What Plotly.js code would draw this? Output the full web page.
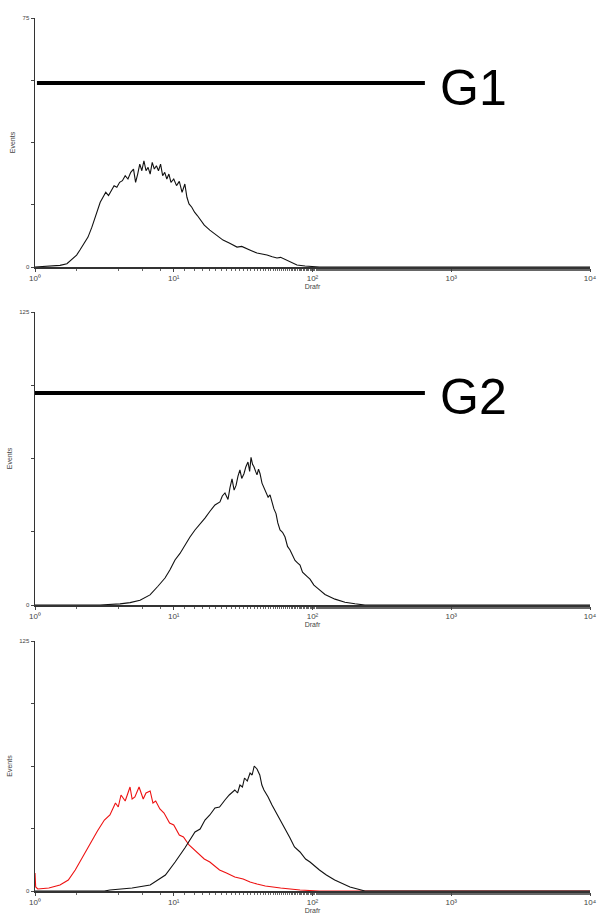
<!DOCTYPE html>
<html>
<head>
<meta charset="utf-8">
<script src="https://cdn.plot.ly/plotly-3.0.1.min.js"></script>
<style>html,body{margin:0;padding:0;background:#fff;}#chart{width:601px;height:918px;}</style>
</head>
<body>
<div id="chart"></div>
<script>
// ---- Data (log10 fluorescence positions, event counts) ----
const p1LogFL = [0,0.108,0.18,0.23,0.267,0.30,0.324,0.35,0.382,0.41,0.43,0.45,0.47,0.49,0.51,0.53,0.55,0.57,0.59,0.61,0.63,0.65,0.67,0.69,0.71,0.725,0.74,0.755,0.77,0.785,0.80,0.815,0.83,0.845,0.86,0.875,0.89,0.905,0.92,0.935,0.95,0.965,0.98,1.0,1.02,1.04,1.06,1.08,1.095,1.11,1.13,1.15,1.17,1.19,1.22,1.26,1.30,1.355,1.40,1.456,1.49,1.528,1.56,1.6,1.64,1.672,1.71,1.744,1.77,1.80,1.838,1.888,1.946,2.05,4];
const p1Counts = [0,0.3,0.5,1,2.5,3.6,5.1,6.8,9,12,14.5,17.5,19.5,21,22.5,21.5,23,24.5,24,25.5,26,27.5,26.5,28.5,29.5,25.5,28,31,29,32,29,30,28,31.5,29.5,30.5,29,31,27.5,28.5,26.5,28,25.5,26.5,24.5,25.8,22.5,25,21,19,18,16.5,15.5,14.2,12.6,11.1,9.8,8.1,7.2,6,6.2,5.4,4.9,4.2,3.9,3.6,3.1,2.7,2.9,2.3,1.5,0.6,0.3,0,0];

const p2LogFL = [0,0.468,0.613,0.685,0.757,0.829,0.886,0.937,0.973,1.009,1.045,1.081,1.117,1.153,1.189,1.225,1.261,1.297,1.333,1.35,1.369,1.391,1.405,1.42,1.435,1.449,1.463,1.477,1.49,1.506,1.52,1.535,1.547,1.557,1.568,1.578,1.59,1.6,1.611,1.622,1.636,1.65,1.665,1.68,1.694,1.708,1.722,1.737,1.75,1.766,1.784,1.802,1.82,1.838,1.856,1.874,1.892,1.91,1.928,1.946,1.964,1.982,2.01,2.04,2.09,2.162,2.234,2.306,2.378,4];
const p2Counts = [0,0,0.5,1,2,4.3,8,11.5,15,19.2,22,25.6,29,32,34.5,37.1,40,42.7,44,46.5,47.8,45,50,53.8,49,51,55,57.6,54,56,59,61,57,63,60,59,57,55.5,58,56,52,50,48,46,47,44,41,39,35,32,31,29,25,23.5,21,19,18,17,14,12.8,12,11,8.5,7,4.5,2.5,1.2,0.5,0,0];

const p3RedLogFL = [0,0.005,0.02,0.1,0.18,0.24,0.29,0.35,0.40,0.45,0.5,0.54,0.58,0.60,0.62,0.65,0.67,0.685,0.70,0.72,0.75,0.78,0.80,0.83,0.85,0.87,0.90,0.93,0.97,1.0,1.04,1.07,1.11,1.15,1.19,1.22,1.26,1.33,1.38,1.44,1.50,1.55,1.60,1.66,1.77,1.91,2.05,4];
const p3RedCounts = [9,2,1,1.5,3,5.5,10.5,18,24.5,30,35.5,38,44,42,48,45,49,52,46,47,52,46,49,50,44,45,41,39,34,33,28,27,23,20.5,18,16,14.5,10.5,9,7,6,4.5,3.5,2.5,1.5,0.5,0,0];

const p3BlackLogFL = [0,0.5,0.54,0.70,0.83,0.94,1.01,1.08,1.153,1.19,1.225,1.26,1.297,1.33,1.369,1.40,1.44,1.46,1.477,1.495,1.51,1.53,1.55,1.565,1.58,1.60,1.62,1.635,1.65,1.68,1.708,1.74,1.766,1.80,1.838,1.87,1.91,1.95,1.982,2.05,2.10,2.16,2.27,2.378,4];
const p3BlackCounts = [0,0,0.5,1.5,3,8,14.5,21.5,29.5,31,35.5,38,41.5,42,45.5,48,50.5,49,53,52,56.5,55,59,58,62.5,61,58,53,50.5,47,43,39,35.5,31,26.5,22,19.5,16,14.5,10.5,8,5.5,2,0,0];

// gate markers: [start log, end log], level (counts)
const gateNames = ['G1','G2'];
const gateLogRange = [[0.014,2.81],[0.0,2.81]];
const gateLevels = [55.4, 90.4];

const yMax = [75,125,125];
const xTickVals = [1,10,100,1000,10000];
const xTickText = ['10⁰','10¹','10²','10³','10⁴'];
const xTitle = 'Drafr';
const yTitle = 'Events';

const toLin = a => a.map(v => Math.pow(10, v));

const traces = [
  {x: toLin(p1LogFL), y: p1Counts, xaxis:'x', yaxis:'y', mode:'lines', line:{color:'#111', width:1.1}},
  {x: toLin(gateLogRange[0]), y: [gateLevels[0], gateLevels[0]], xaxis:'x', yaxis:'y', mode:'lines', line:{color:'#000', width:4}},
  {x: toLin(p2LogFL), y: p2Counts, xaxis:'x2', yaxis:'y2', mode:'lines', line:{color:'#111', width:1.1}},
  {x: toLin(gateLogRange[1]), y: [gateLevels[1], gateLevels[1]], xaxis:'x2', yaxis:'y2', mode:'lines', line:{color:'#000', width:4}},
  {x: toLin(p3RedLogFL), y: p3RedCounts, xaxis:'x3', yaxis:'y3', mode:'lines', line:{color:'#ee1111', width:1.1}},
  {x: toLin(p3BlackLogFL), y: p3BlackCounts, xaxis:'x3', yaxis:'y3', mode:'lines', line:{color:'#111', width:1.1}}
];

const H = 918;
const doms = [[18,267],[312,605],[641,891]];
function ydom(d){ return [1 - d[1]/H, 1 - d[0]/H]; }

function xax(anchor){
  return {
    type:'log', range:[0,4], anchor:anchor, domain:[0,1],
    showline:true, linecolor:'#333', linewidth:1.5, mirror:false,
    showgrid:false, zeroline:false,
    ticks:'outside', ticklen:3, tickcolor:'#444', tickwidth:1,
    tickvals:xTickVals, ticktext:xTickText,
    tickfont:{size:8, color:'#444', family:'Arial'},
    minor:{ticks:'outside', ticklen:2, tickcolor:'#666', tickwidth:1, showgrid:false},
    title:{text:xTitle, font:{size:7, color:'#444', family:'Arial'}, standoff:2},
    automargin:false, fixedrange:true
  };
}
function yax(anchor, i){
  const m = yMax[i];
  return {
    range:[0,m], anchor:anchor, domain:ydom(doms[i]),
    showline:true, linecolor:'#333', linewidth:1.5,
    showgrid:false, zeroline:false,
    ticks:'outside', ticklen:3, tickcolor:'#444', tickwidth:1,
    tickvals:[0,m/4,m/2,3*m/4,m], ticktext:['0','','','',String(m)],
    tickfont:{size:6, color:'#444', family:'Arial'},
    title:{text:yTitle, font:{size:7, color:'#444', family:'Arial'}, standoff:6},
    automargin:false, fixedrange:true
  };
}

const layout = {
  width:601, height:918,
  margin:{l:35, r:11, t:0, b:0},
  paper_bgcolor:'#fff', plot_bgcolor:'#fff',
  showlegend:false,
  font:{family:'Arial, Liberation Sans, sans-serif'},
  xaxis: xax('y'), yaxis: yax('x',0),
  xaxis2: xax('y2'), yaxis2: yax('x2',1),
  xaxis3: xax('y3'), yaxis3: yax('x3',2),
  annotations: [
    {text:gateNames[0], xref:'paper', yref:'paper', x:(438-35)/555, y:1-88/H, xanchor:'left', yanchor:'middle', showarrow:false, font:{size:50, color:'#000', family:'Arial, Liberation Sans, sans-serif'}},
    {text:gateNames[1], xref:'paper', yref:'paper', x:(438-35)/555, y:1-397/H, xanchor:'left', yanchor:'middle', showarrow:false, font:{size:50, color:'#000', family:'Arial, Liberation Sans, sans-serif'}}
  ]
};

Plotly.newPlot('chart', traces, layout, {staticPlot:true, displayModeBar:false});
</script>
</body>
</html>
